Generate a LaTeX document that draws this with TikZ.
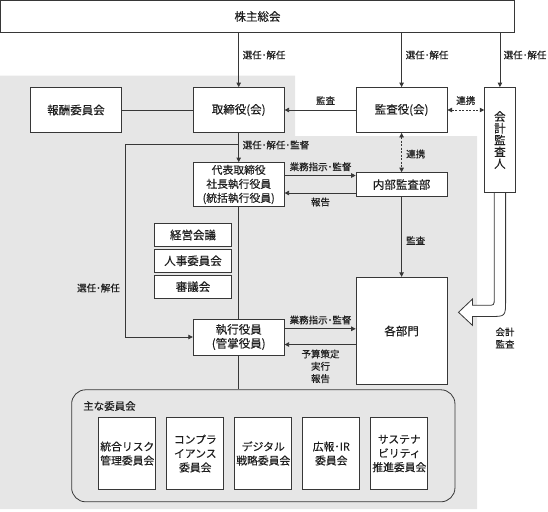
\documentclass[tikz,border=0pt]{standalone}
\usepackage{fontspec}
\setmainfont{Noto Sans CJK JP}[FakeBold=0.25]
\usetikzlibrary{arrows.meta}
\definecolor{bggray}{RGB}{230,230,230}
\definecolor{lc}{RGB}{55,55,55}
\definecolor{tc}{RGB}{30,30,30}
\newcommand{\fsz}[2]{\fontsize{#1}{#2}\selectfont}
\begin{document}
\begin{tikzpicture}[x=1pt,y=-1pt,
  box/.style={draw=lc,fill=white,line width=0.8pt,inner sep=0pt,align=center,text=tc,font=\fsz{11.5}{14}},
  sbox/.style={box,font=\fsz{10.8}{14}},
  lbl/.style={inner sep=0pt,text=tc,font=\fsz{9.5}{12.3},align=center},
  tip/.tip={Triangle[length=4.5pt,width=4.5pt]},
  arr/.style={draw=lc,line width=0.8pt,-tip},
  darr/.style={draw=lc,line width=0.8pt,tip-tip,dash pattern=on 2pt off 1.5pt},
  ln/.style={draw=lc,line width=0.8pt}]
\useasboundingbox (0,0) rectangle (548,511);
% gray background
\fill[bggray] (0,75.6) -- (295,75.6) -- (295,136) -- (477,136) -- (477,509) -- (0,509) -- cycle;

% nodes
\node[box,minimum width=514pt,minimum height=32pt] (soukai) at (257.5,16.5) {株主総会};
\node[box,minimum width=91pt,minimum height=45pt] (houshu) at (76,110) {報酬委員会};
\node[box,minimum width=91pt,minimum height=45pt] (tori) at (238.7,110) {取締役(会)};
\node[box,minimum width=91pt,minimum height=45pt] (kansa) at (401.6,110) {監査役(会)};
\node[box,minimum width=30.5pt,minimum height=105pt,font=\fsz{11.5}{11.8}] (kaikei) at (499.9,140) {会\\計\\監\\査\\人};
\node[sbox,minimum width=91pt,minimum height=44pt] (daihyo) at (238.7,184.5) {代表取締役\\社長執行役員\\(統括執行役員)};
\node[box,minimum width=91pt,minimum height=24pt] (naibu) at (401.6,184.6) {内部監査部};
\node[box,minimum width=76.5pt,minimum height=23.5pt] (keiei) at (193,235) {経営会議};
\node[box,minimum width=76.5pt,minimum height=23.5pt] (jinji) at (193,260.8) {人事委員会};
\node[box,minimum width=76.5pt,minimum height=23.5pt] (shingi) at (193,286.7) {審議会};
\node[box,minimum width=91pt,minimum height=36pt] (shikko) at (238.7,337) {執行役員\\(管掌役員)};
\node[box,minimum width=91pt,minimum height=107.5pt] (kakubu) at (401.6,331) {各部門};

% committee container
\node[draw=lc,line width=0.8pt,rounded corners=14pt,minimum width=383.3pt,minimum height=112pt,inner sep=0pt] (iinkai) at (263.3,445.8) {};
\node[lbl,font=\fsz{10.5}{13},anchor=west] (omona) at (83,406) {主な委員会};
\node[sbox,minimum width=57pt,minimum height=71.4pt] (c1) at (127.3,453.5) {統合リスク\\管理委員会};
\node[sbox,minimum width=57pt,minimum height=71.4pt] (c2) at (195.3,453.5) {コンプラ\\イアンス\\委員会};
\node[sbox,minimum width=57pt,minimum height=71.4pt] (c3) at (263.3,453.5) {デジタル\\戦略委員会};
\node[sbox,minimum width=57pt,minimum height=71.4pt] (c4) at (331.3,453.5) {広報･IR\\委員会};
\node[sbox,minimum width=57pt,minimum height=71.4pt] (c5) at (399.3,453.5) {サステナ\\ビリティ\\推進委員会};

% connectors from shareholders
\draw[arr] (tori.north |- soukai.south) -- (tori.north);
\draw[arr] (kansa.north |- soukai.south) -- (kansa.north);
\draw[arr] (kaikei.north |- soukai.south) -- (kaikei.north);
\node[lbl,anchor=west] (l1) at (242.5,55) {選任･解任};
\node[lbl,anchor=west] (l2) at (405.5,55) {選任･解任};
\node[lbl,anchor=west] (l3) at (503.5,55) {選任･解任};

% board row
\draw[ln] (houshu.east) -- (tori.west);
\draw[arr] (kansa.west) -- (tori.east);
\node[lbl] (l4) at (325.5,100.5) {監査};
\draw[darr] (kansa.east) -- (kansa.east -| kaikei.west);
\node[lbl] (l5) at (465.8,100.5) {連携};

% board to representative
\draw[arr] (tori.south) -- (daihyo.north);
\node[lbl,anchor=west] (l6) at (242.5,145) {選任･解任･監督};
\coordinate (br) at (238.7,144);
\coordinate (bl) at (125.3,144);
\draw[arr] (br) -- (bl) |- (shikko.west);
\node[lbl] (l7) at (98.5,288) {選任･解任};

% audit cooperation
\draw[darr] (kansa.south) -- (naibu.north);
\node[lbl,anchor=west] (l8) at (406,154) {連携};

% representative <-> internal audit
\draw[arr] ([yshift=9pt]daihyo.east) -- ([yshift=9pt]daihyo.east -| naibu.west);
\node[lbl] (l9) at (320.5,166.8) {業務指示･監督};
\draw[arr] ([yshift=-8.5pt]daihyo.east -| naibu.west) -- ([yshift=-8.5pt]daihyo.east);
\node[lbl] (l10) at (320.5,202) {報告};

% vertical spine
\draw[ln] (daihyo.south) -- (shikko.north);
\draw[ln] (shikko.south) -- (shikko.south |- iinkai.north);

% internal audit to departments
\draw[arr] (naibu.south) -- (kakubu.north);
\node[lbl,anchor=west] (l11) at (406,240.6) {監査};

% executives <-> departments
\draw[arr] ([yshift=8.2pt]shikko.east) -- ([yshift=8.2pt]shikko.east -| kakubu.west);
\node[lbl] (l12) at (320.5,320) {業務指示･監督};
\draw[arr] ([yshift=-7.5pt]shikko.east -| kakubu.west) -- ([yshift=-7.5pt]shikko.east);
\node[lbl] (l13) at (320.5,366.3) {予算策定\\実行\\報告};

% hollow arrow (accounting audit)
\draw[draw=lc,line width=0.8pt,fill=white,line join=miter]
  (494.2,193) -- (494.2,298.5) .. controls (494.2,305.3) .. (487.5,305.3)
  -- (472.5,305.3) -- (472.5,299) -- (458.5,312.3) -- (472.5,325.4)
  -- (472.5,316.5) -- (490,316.5) .. controls (505.6,316.5) .. (505.6,300)
  -- (505.6,193);
\node[lbl] (l14) at (505,338) {会計\\監査};
\end{tikzpicture}
\end{document}
